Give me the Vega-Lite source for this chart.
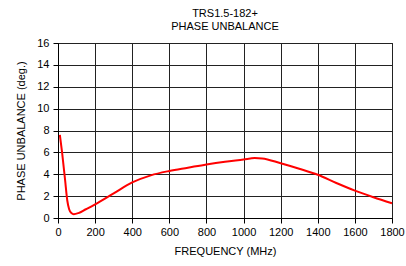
{
  "$schema": "https://vega.github.io/schema/vega-lite/v6.json",
  "width": 334,
  "height": 175,
  "autosize": "none",
  "padding": {"left": 58, "top": 43, "right": 14, "bottom": 48},
  "background": "white",
  "title": {
    "text": ["TRS1.5-182+", "PHASE UNBALANCE"],
    "font": "Liberation Sans",
    "fontSize": 11,
    "fontWeight": "normal",
    "color": "black",
    "lineHeight": 13,
    "offset": 5,
    "anchor": "middle"
  },
  "config": {
    "view": {"stroke": "black", "strokeWidth": 1},
    "axis": {
      "labelFont": "Liberation Sans",
      "titleFont": "Liberation Sans",
      "labelFontSize": 11,
      "titleFontSize": 11,
      "titleFontWeight": "normal",
      "labelColor": "black",
      "titleColor": "black",
      "domainColor": "black",
      "tickColor": "black",
      "gridColor": "#222",
      "gridOpacity": 1,
      "gridWidth": 1,
      "tickSize": 5
    }
  },
  "data": {
    "values": [
      {"f": 10, "v": 7.6},
      {"f": 22, "v": 6.0},
      {"f": 38, "v": 3.5},
      {"f": 50, "v": 1.6},
      {"f": 60, "v": 0.8},
      {"f": 72, "v": 0.45},
      {"f": 85, "v": 0.35},
      {"f": 110, "v": 0.45},
      {"f": 150, "v": 0.8},
      {"f": 200, "v": 1.25},
      {"f": 300, "v": 2.25},
      {"f": 400, "v": 3.25},
      {"f": 500, "v": 3.9},
      {"f": 600, "v": 4.3},
      {"f": 700, "v": 4.6},
      {"f": 800, "v": 4.9},
      {"f": 900, "v": 5.15},
      {"f": 1000, "v": 5.35},
      {"f": 1060, "v": 5.48},
      {"f": 1100, "v": 5.45},
      {"f": 1200, "v": 5.0},
      {"f": 1300, "v": 4.5},
      {"f": 1400, "v": 3.95},
      {"f": 1500, "v": 3.2},
      {"f": 1600, "v": 2.5},
      {"f": 1700, "v": 1.9},
      {"f": 1800, "v": 1.35}
    ]
  },
  "mark": {"type": "line", "color": "red", "strokeWidth": 2, "interpolate": "monotone"},
  "encoding": {
    "x": {
      "field": "f",
      "type": "quantitative",
      "title": "FREQUENCY (MHz)",
      "scale": {"domain": [0, 1800], "nice": false},
      "axis": {"values": [0, 200, 400, 600, 800, 1000, 1200, 1400, 1600, 1800], "format": "d", "labelOverlap": false, "labelBound": false, "labelFlush": false, "titlePadding": 8, "labelPadding": 3}
    },
    "y": {
      "field": "v",
      "type": "quantitative",
      "title": "PHASE UNBALANCE (deg.)",
      "scale": {"domain": [0, 16], "nice": false},
      "axis": {"values": [0, 2, 4, 6, 8, 10, 12, 14, 16], "titlePadding": 10, "labelPadding": 4}
    }
  }
}
